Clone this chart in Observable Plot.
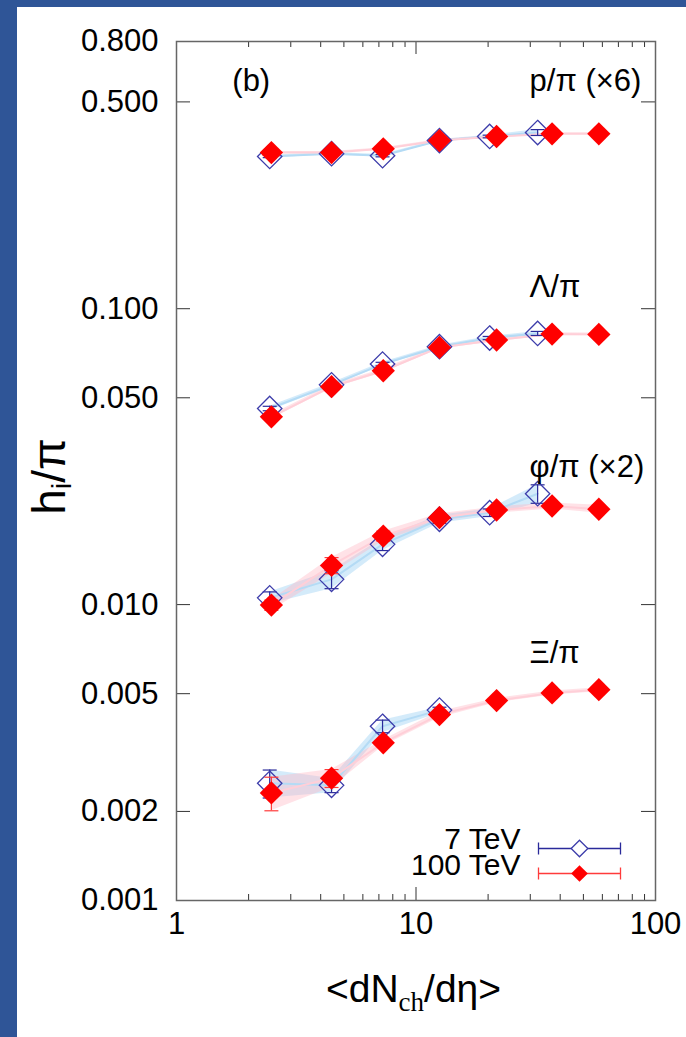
<!DOCTYPE html>
<html><head><meta charset="utf-8">
<script src="https://cdn.jsdelivr.net/npm/d3@7"></script>
<script src="https://cdn.jsdelivr.net/npm/@observablehq/plot@0.6"></script>
<style>
body{margin:0;background:#fff;width:686px;height:1037px;overflow:hidden;position:relative;font-family:"Liberation Sans",Arial,sans-serif}
#topbar{position:absolute;left:0;top:0;width:686px;height:7px;background:#2f5597}
#leftbar{position:absolute;left:0;top:0;width:17px;height:1037px;background:#2f5597}
#chart{position:absolute;left:17px;top:7px}
</style></head><body>
<div id="topbar"></div><div id="leftbar"></div><div id="chart"></div>
<script>
// multiplicity <dN_ch/deta>
const x7 = [2.45, 4.44, 7.25, 12.53, 20.3, 32.2];
const x100 = [2.49, 4.44, 7.30, 12.53, 21.7, 37.0, 58.0];

// p/pi (x6)
const p7 = [0.327, 0.334, 0.329, 0.370, 0.382, 0.394];
const p7err = [0.003, 0.003, 0.003, 0.003, 0.004, 0.009];
const p100 = [0.337, 0.337, 0.347, 0.370, 0.382, 0.390, 0.390];
const p100err = [0.003, 0.003, 0.003, 0.003, 0.003, 0.003, 0.003];

// Lambda/pi
const lam7 = [0.0460, 0.0553, 0.0650, 0.0744, 0.0796, 0.0825];
const lam7err = [0.0008, 0.0008, 0.0009, 0.0009, 0.0010, 0.0013];
const lam100 = [0.0431, 0.0545, 0.0617, 0.0740, 0.0784, 0.0821, 0.0819];
const lam100err = [0.0007, 0.0008, 0.0009, 0.0009, 0.0009, 0.0009, 0.0009];

// phi/pi (x2)
const phi7 = [0.01054, 0.01217, 0.01598, 0.01943, 0.02045, 0.0237];
const phi7err = [0.0005, 0.00085, 0.00075, 0.0006, 0.0006, 0.0017];
const phi100 = [0.00996, 0.01357, 0.01705, 0.01967, 0.02088, 0.02154, 0.0210];
const phi100err = [0.0004, 0.00085, 0.00066, 0.0006, 0.0005, 0.0005, 0.00065];

// Xi/pi
const xi7 = [0.00249, 0.00245, 0.00388, 0.00440];
const xi7err = [0.00027, 0.000135, 0.00019, 0.0001];
const xi100 = [0.00231, 0.00259, 0.00341, 0.00425, 0.00474, 0.00503, 0.00516];
const xi100err = [0.0003, 0.00018, 0.00008, 0.0001, 0.00008, 0.00008, 0.00008];

// axis ticks
const xMajor = [1, 10, 100];
const xMinor = [2, 3, 4, 5, 6, 7, 8, 9, 20, 30, 40, 50, 60, 70, 80, 90];
const yMajor = [0.001, 0.002, 0.005, 0.01, 0.05, 0.1, 0.5, 0.8];
const yLabels = ["0.001", "0.002", "0.005", "0.010", "0.050", "0.100", "0.500", "0.800"];

// annotations
const annText = ["(b)", "p/π (×6)", "Λ/π", "φ/π (×2)", "Ξ/π"];
const annX = [1.71, 29.8, 29.8, 29.8, 29.8];
const annY = [0.59, 0.59, 0.118, 0.0291, 0.00684];

const legendLabels = ["7 TeV", "100 TeV"];

function build(energy, series, xs, ys, errs) {
  return ys.map((y, i) => ({energy, series, x: xs[i], y, lo: y - errs[i], hi: y + errs[i]}));
}
const d7 = [
  ...build("7", "p", x7, p7, p7err),
  ...build("7", "lam", x7, lam7, lam7err),
  ...build("7", "phi", x7, phi7, phi7err),
  ...build("7", "xi", x7, xi7, xi7err)
];
const d100 = [
  ...build("100", "p", x100, p100, p100err),
  ...build("100", "lam", x100, lam100, lam100err),
  ...build("100", "phi", x100, phi100, phi100err),
  ...build("100", "xi", x100, xi100, xi100err)
];
const caps = d => d.flatMap(r => [{x: r.x, y: r.lo}, {x: r.x, y: r.hi}]);

const BLUE = "#2a2a9a";
const RED = "#ff3b3b";
const FONT = "'Liberation Sans', Arial, sans-serif";
const FS = 31;

const W = 669, H = 1030, ML = 159, MR = 31, MT = 34, MB = 137;
const FW = W - ML - MR, FH = H - MT - MB;

const capSym = {draw(ctx) { ctx.moveTo(-7, 0); ctx.lineTo(7, 0); }};
const legSym = {draw(ctx) {
  ctx.moveTo(-41, 0); ctx.lineTo(41, 0);
  ctx.moveTo(-41, -6); ctx.lineTo(-41, 6);
  ctx.moveTo(41, -6); ctx.lineTo(41, 6);
}};

const chart = Plot.plot({
  width: W, height: H,
  marginLeft: ML, marginRight: MR, marginTop: MT, marginBottom: MB,
  x: {type: "log", domain: [1, 100], axis: null},
  y: {type: "log", domain: [0.001, 0.8], axis: null},
  style: {fontFamily: FONT, fontSize: FS + "px", color: "black", background: "white"},
  marks: [
    Plot.areaY(d7, {x: "x", y1: "lo", y2: "hi", z: "series", fill: "#9fd2f4", fillOpacity: 0.45}),
    Plot.areaY(d100, {x: "x", y1: "lo", y2: "hi", z: "series", fill: "#ffb6c4", fillOpacity: 0.4}),
    Plot.line(d7, {x: "x", y: "y", z: "series", stroke: "#b4dbf5", strokeWidth: 2}),
    Plot.line(d100, {x: "x", y: "y", z: "series", stroke: "#ffcfd8", strokeWidth: 2}),
    Plot.ruleX(d7, {x: "x", y1: "lo", y2: "hi", stroke: BLUE, strokeWidth: 1.2}),
    Plot.dot(caps(d7), {x: "x", y: "y", symbol: capSym, stroke: BLUE, strokeWidth: 1.2}),
    Plot.dot(d7, {x: "x", y: "y", symbol: "diamond2", r: 11, stroke: "#3c3caa", strokeWidth: 1.3, fill: "none"}),
    Plot.ruleX(d100, {x: "x", y1: "lo", y2: "hi", stroke: RED, strokeWidth: 1.2}),
    Plot.dot(caps(d100), {x: "x", y: "y", symbol: capSym, stroke: RED, strokeWidth: 1.2}),
    Plot.dot(d100, {x: "x", y: "y", symbol: "diamond2", r: 10.5, fill: "#ff0000", stroke: "none"}),
    // ticks (inward, all four sides)
    Plot.ruleX(xMajor, {x: d => d, insetTop: FH - 13, stroke: "#333"}),
    Plot.ruleX(xMajor, {x: d => d, insetBottom: FH - 13, stroke: "#333"}),
    Plot.ruleX(xMinor, {x: d => d, insetTop: FH - 6, stroke: "#333"}),
    Plot.ruleX(xMinor, {x: d => d, insetBottom: FH - 6, stroke: "#333"}),
    Plot.ruleY(yMajor, {y: d => d, insetRight: FW - 14, stroke: "#333"}),
    Plot.ruleY(yMajor, {y: d => d, insetLeft: FW - 14, stroke: "#333"}),
    Plot.frame({stroke: "#666", strokeWidth: 1.5}),
    // tick labels
    Plot.text(xMajor, {x: d => d, text: d => String(d), frameAnchor: "bottom", dy: 33, fontSize: FS, fill: "black"}),
    Plot.text(yMajor, {y: d => d, text: (d, i) => yLabels[i], frameAnchor: "left", dx: -18, textAnchor: "end", fontSize: FS, fill: "black"}),
    // annotations
    Plot.text(annText, {x: (d, i) => annX[i], y: (d, i) => annY[i], text: d => d, textAnchor: "start", fontSize: FS, fill: "black"}),
    // legend
    Plot.dot(legendLabels.slice(0, 1), {frameAnchor: "bottom-right", dx: -76, dy: -52, symbol: legSym, stroke: BLUE, strokeWidth: 1.3}),
    Plot.dot(legendLabels.slice(0, 1), {frameAnchor: "bottom-right", dx: -76, dy: -52, symbol: "diamond2", r: 7.5, stroke: "#3c3caa", strokeWidth: 1.3, fill: "white"}),
    Plot.dot(legendLabels.slice(1, 2), {frameAnchor: "bottom-right", dx: -76, dy: -27, symbol: legSym, stroke: RED, strokeWidth: 1.3}),
    Plot.dot(legendLabels.slice(1, 2), {frameAnchor: "bottom-right", dx: -76, dy: -27, symbol: "diamond2", r: 7.5, fill: "#ff0000", stroke: "none"}),
    Plot.text(legendLabels.slice(0, 1), {text: d => d, frameAnchor: "bottom-right", dx: -135, dy: -52, textAnchor: "end", fontSize: 30, fill: "black"}),
    Plot.text(legendLabels.slice(1, 2), {text: d => d, frameAnchor: "bottom-right", dx: -135, dy: -26, textAnchor: "end", fontSize: 30, fill: "black"})
  ]
});
document.getElementById("chart").appendChild(chart);

// axis titles with subscripts
const svg = d3.select(chart);
const yt = svg.append("text")
  .attr("transform", `translate(48, ${MT + FH / 2 + 6}) rotate(-90)`)
  .attr("text-anchor", "middle")
  .attr("font-family", FONT).attr("font-size", 46).attr("fill", "black");
yt.append("tspan").text("h");
yt.append("tspan").attr("font-size", 28).attr("dy", 6).text("i");
yt.append("tspan").attr("dy", -6).text("/π");

const xt = svg.append("text")
  .attr("x", ML + FW / 2 - 2).attr("y", H - 35)
  .attr("text-anchor", "middle")
  .attr("font-family", FONT).attr("font-size", 39).attr("fill", "black");
xt.append("tspan").text("<dN");
xt.append("tspan").attr("font-family", "'Liberation Serif', 'DejaVu Serif', serif").attr("font-size", 27).attr("dy", 9).text("ch");
xt.append("tspan").attr("dy", -9).text("/dη>");
</script></body></html>
